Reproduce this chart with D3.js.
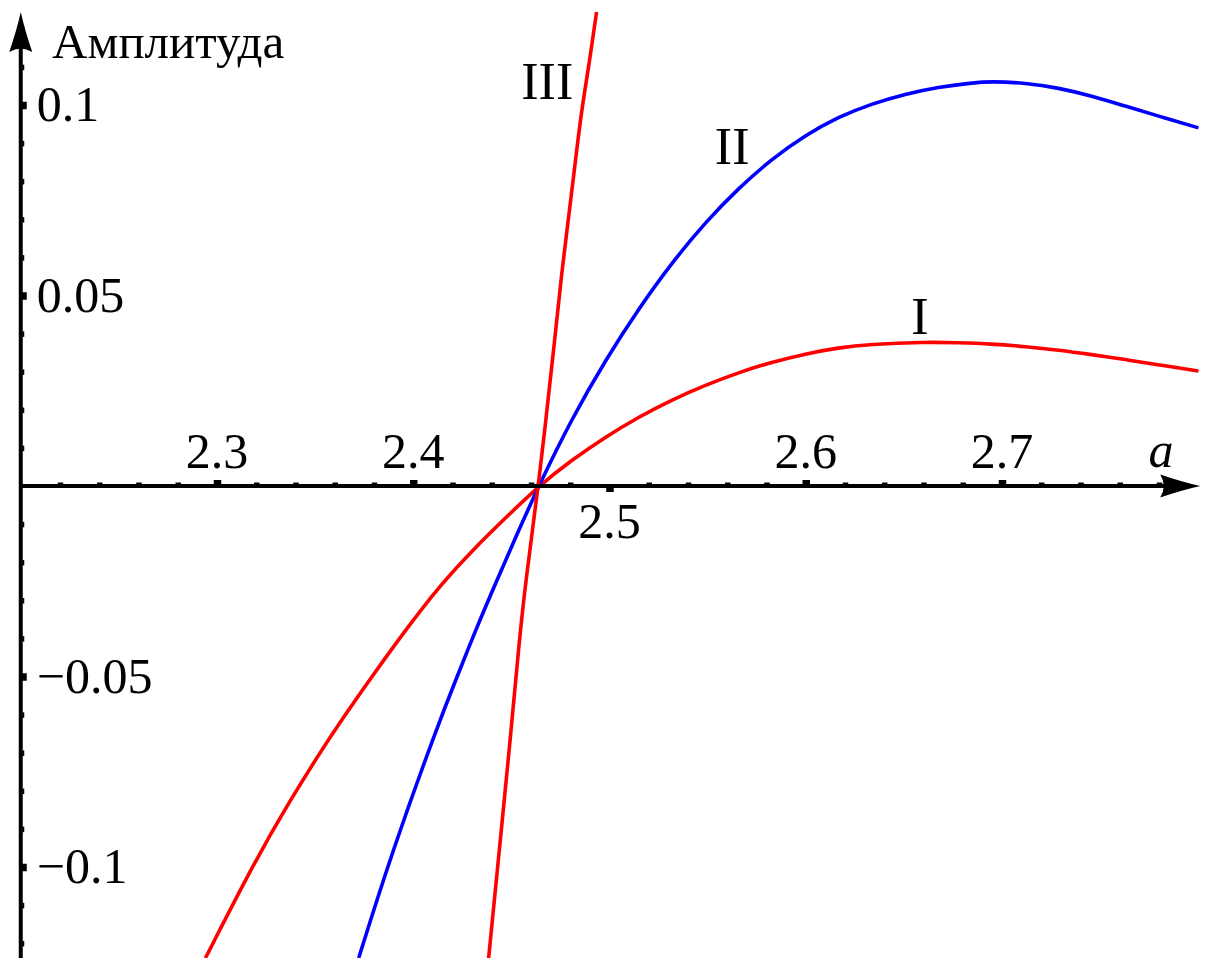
<!DOCTYPE html>
<html>
<head>
<meta charset="utf-8">
<script src="https://cdn.jsdelivr.net/npm/d3@7/dist/d3.min.js"></script>
<style>
  html, body { margin: 0; padding: 0; background: #fff; }
  svg { display: block; }
  text { font-family: "Liberation Serif", "Times New Roman", serif; fill: #000; }
</style>
</head>
<body>
<svg id="chart" width="1206" height="958"></svg>
<script>
// Amplitude branches I, II, III versus parameter a: [a, amplitude]
const curveI = [
  [2.2941, -0.1239], [2.3196, -0.0982], [2.3365, -0.0832], [2.3523, -0.0701],
  [2.3635, -0.0614], [2.3788, -0.0501], [2.3961, -0.0378], [2.4129, -0.0265],
  [2.4308, -0.0165], [2.4476, -0.0081], [2.4639, 0.0], [2.4807, 0.0068],
  [2.4980, 0.0129], [2.5148, 0.0181], [2.5316, 0.0226], [2.5490, 0.0265],
  [2.5658, 0.0298], [2.5826, 0.0325], [2.5999, 0.0347], [2.6167, 0.0363],
  [2.6320, 0.0372], [2.6610, 0.0378], [2.6778, 0.0376], [2.6946, 0.0373],
  [2.7120, 0.0366], [2.7288, 0.0357], [2.7456, 0.0345], [2.7629, 0.0332],
  [2.7797, 0.0318], [2.8001, 0.0302]
];
const curveII = [
  [2.3722, -0.1239], [2.3890, -0.0963], [2.4129, -0.0622], [2.4231, -0.0491],
  [2.4318, -0.0378], [2.4420, -0.0255], [2.4522, -0.0134], [2.4639, 0.0],
  [2.4807, 0.0176], [2.4980, 0.0331], [2.5148, 0.0465], [2.5316, 0.0585],
  [2.5490, 0.0693], [2.5658, 0.0782], [2.5826, 0.0858], [2.5999, 0.0921],
  [2.6167, 0.0969], [2.6335, 0.1003], [2.6508, 0.1029], [2.6676, 0.1047],
  [2.6845, 0.1058], [2.6946, 0.1062], [2.7120, 0.1058], [2.7288, 0.1045],
  [2.7456, 0.1024], [2.7629, 0.0997], [2.7797, 0.0971], [2.8001, 0.0940]
];
const curveIII = [
  [2.4384, -0.1239], [2.4501, -0.0633], [2.4537, -0.0423], [2.4573, -0.0247],
  [2.4639, 0.0], [2.4725, 0.0402], [2.4756, 0.0559], [2.4792, 0.0706],
  [2.4827, 0.0856], [2.4858, 0.0987], [2.4894, 0.1100], [2.4934, 0.1244]
];

// Tick labels
const xTickValues = [2.3, 2.4, 2.5, 2.6, 2.7];
const xTickLabels = ["2.3", "2.4", "2.5", "2.6", "2.7"];
const xLabelBelow = [false, false, true, false, false];
const yTickValues = [0.1, 0.05, -0.05, -0.1];
const yTickLabels = ["0.1", "0.05", "\u22120.05", "\u22120.1"];

// Branch labels: [name, a, amplitude]
const branchLabels = [
  ["III", 2.4683, 0.1017],
  ["II", 2.5625, 0.0845],
  ["I", 2.6582, 0.0399]
];

const svg = d3.select("#chart");
const W = 1206, H = 958;

const x = d3.scaleLinear().domain([2.3, 2.7]).range([217, 1002]);
const y = d3.scaleLinear().domain([-0.1, 0.1]).range([867, 105]);

const x0 = x(2.2), y0 = y(0);

// clip for curves
svg.append("defs").append("clipPath").attr("id", "plotClip")
  .append("rect").attr("x", x0).attr("y", 0).attr("width", W - x0).attr("height", H);

// Curves (B-spline smoothing through the sampled points)
const line = d3.line()
  .x(d => x(d[0]))
  .y(d => y(d[1]))
  .curve(d3.curveBasis);

const curves = svg.append("g").attr("clip-path", "url(#plotClip)");
[[curveI, "#ff0000"], [curveII, "#0000ff"], [curveIII, "#ff0000"]].forEach(([data, color]) => {
  curves.append("path")
    .datum(data)
    .attr("d", line)
    .attr("fill", "none")
    .attr("stroke", color)
    .attr("stroke-width", 3.6)
    .attr("stroke-linejoin", "round");
});

// Axes lines
const axisW = 4;
const xTip = x(2.8) + 2;
const yTip = 12;
svg.append("line")
  .attr("x1", x0).attr("x2", xTip - 20)
  .attr("y1", y0).attr("y2", y0)
  .attr("stroke", "#000").attr("stroke-width", axisW);
svg.append("line")
  .attr("x1", x0).attr("x2", x0)
  .attr("y1", H).attr("y2", yTip + 20)
  .attr("stroke", "#000").attr("stroke-width", axisW);

// Arrowheads
const arrow = "M0,0 Q-18,-4 -40,-11.5 Q-33,0 -40,11.5 Q-18,4 0,0 Z";
svg.append("path").attr("d", arrow)
  .attr("transform", `translate(${xTip},${y0})`).attr("fill", "#000");
svg.append("path").attr("d", arrow)
  .attr("transform", `translate(${x0},${yTip}) rotate(-90)`).attr("fill", "#000");

// Minor ticks (x every 0.02, y every 0.01)
const xMinor = d3.scaleLinear().domain([2.2, 2.8]).ticks(30)
  .filter(v => v > 2.21 && v < 2.79 && !xTickValues.some(t => Math.abs(t - v) < 1e-6));
const yMinor = d3.scaleLinear().domain([-0.125, 0.125]).ticks(25)
  .filter(v => Math.abs(v) > 1e-6 && !yTickValues.some(t => Math.abs(t - v) < 1e-6));

const gxMinor = svg.append("g").attr("transform", `translate(0,${y0 - 1.5})`)
  .call(d3.axisTop(x).tickValues(xMinor).tickSize(2).tickSizeOuter(0).tickFormat(""));
gxMinor.select(".domain").remove();
gxMinor.selectAll(".tick line").attr("stroke", "#000").attr("stroke-width", 5.5);

const gyMinor = svg.append("g").attr("transform", `translate(${x0 + 1.5},0)`)
  .call(d3.axisRight(y).tickValues(yMinor).tickSize(2).tickSizeOuter(0).tickFormat(""));
gyMinor.select(".domain").remove();
gyMinor.selectAll(".tick line").attr("stroke", "#000").attr("stroke-width", 5.5);

// Major ticks
const xUp = xTickValues.filter((v, i) => !xLabelBelow[i]);
const xDown = xTickValues.filter((v, i) => xLabelBelow[i]);
const gxUp = svg.append("g").attr("transform", `translate(0,${y0})`)
  .call(d3.axisTop(x).tickValues(xUp).tickSize(6).tickSizeOuter(0).tickFormat(""));
gxUp.select(".domain").remove();
gxUp.selectAll(".tick line").attr("stroke", "#000").attr("stroke-width", 7.5);
const gxDown = svg.append("g").attr("transform", `translate(0,${y0})`)
  .call(d3.axisBottom(x).tickValues(xDown).tickSize(6).tickSizeOuter(0).tickFormat(""));
gxDown.select(".domain").remove();
gxDown.selectAll(".tick line").attr("stroke", "#000").attr("stroke-width", 7.5);

const gyMajor = svg.append("g").attr("transform", `translate(${x0},0)`)
  .call(d3.axisRight(y).tickValues(yTickValues).tickSize(6).tickSizeOuter(0).tickFormat(""));
gyMajor.select(".domain").remove();
gyMajor.selectAll(".tick line").attr("stroke", "#000").attr("stroke-width", 7.5);

// Tick labels
const fs = 50;
xTickValues.forEach((v, i) => {
  svg.append("text")
    .attr("x", x(v))
    .attr("y", xLabelBelow[i] ? y0 + 52 : y0 - 18)
    .attr("text-anchor", "middle")
    .attr("font-size", fs)
    .text(xTickLabels[i]);
});
yTickValues.forEach((v, i) => {
  svg.append("text")
    .attr("x", x0 + 16)
    .attr("y", y(v) + 16)
    .attr("text-anchor", "start")
    .attr("font-size", fs)
    .text(yTickLabels[i]);
});

// Axis titles
svg.append("text")
  .attr("x", 52).attr("y", 58)
  .attr("font-size", 49)
  .text("Амплитуда");
svg.append("text")
  .attr("x", 1161).attr("y", 467)
  .attr("text-anchor", "middle")
  .attr("font-size", 50)
  .attr("font-style", "italic")
  .text("a");

// Branch labels
branchLabels.forEach(([name, a, v]) => {
  svg.append("text")
    .attr("x", x(a)).attr("y", y(v))
    .attr("text-anchor", "middle")
    .attr("font-size", 52)
    .text(name);
});
</script>
</body>
</html>
